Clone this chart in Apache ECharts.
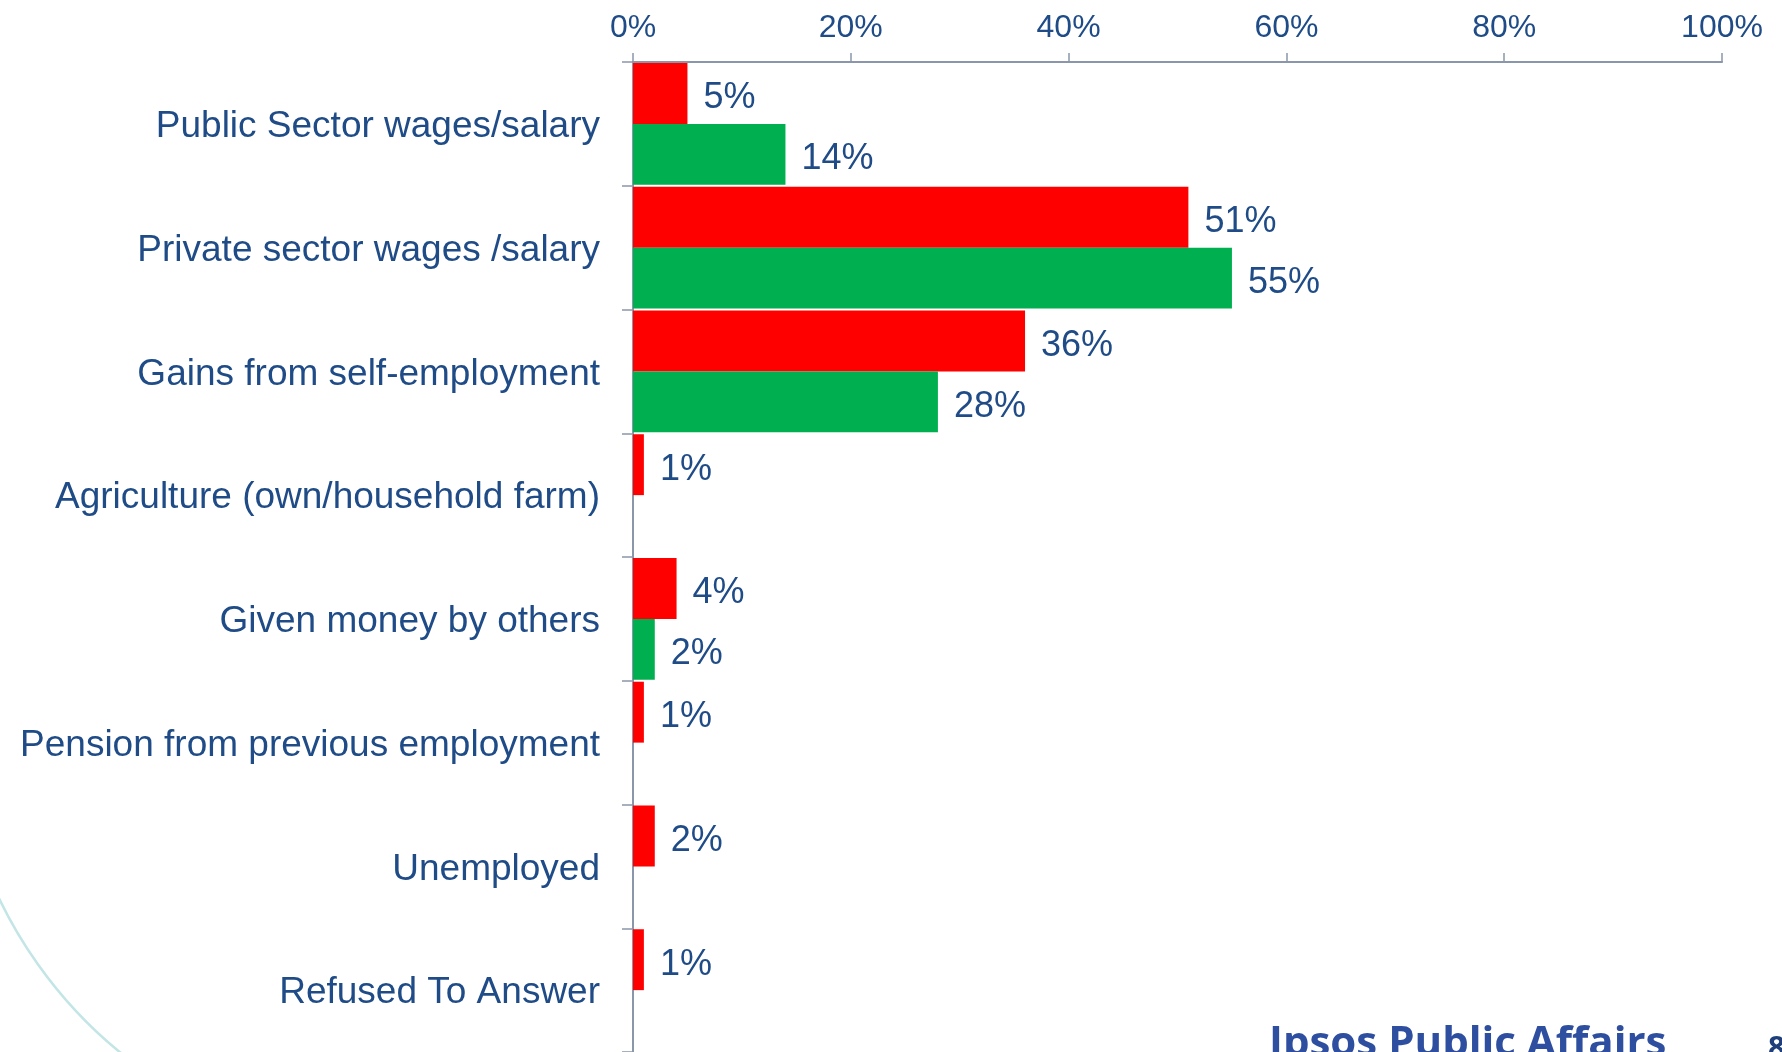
<!DOCTYPE html>
<html>
<head>
<meta charset="utf-8">
<script src="https://cdn.jsdelivr.net/npm/echarts@6/dist/echarts.min.js"></script>
<style>
  html, body { margin: 0; padding: 0; background: #ffffff; }
  #chart { width: 1782px; height: 1052px; }
</style>
</head>
<body>
<div id="chart"></div>
<script>
// ---- data ----
var categories = [
  'Public Sector wages/salary',
  'Private sector wages /salary',
  'Gains from self-employment',
  'Agriculture (own/household farm)',
  'Given money by others',
  'Pension from previous employment',
  'Unemployed',
  'Refused To Answer'
];
var redValues   = [5, 51, 36, 1, 4, 1, 2, 1];
var greenValues = [14, 55, 28, null, 2, null, null, null];
var xTicks = [0, 20, 40, 60, 80, 100];

var textColor = '#1f4b87';
var axisColor = '#8a96aa';

var chart = echarts.init(document.getElementById('chart'), null, { renderer: 'canvas' });

function barLabel() {
  return {
    show: true,
    position: 'right',
    distance: 16,
    offset: [0, 5],
    formatter: function (p) { return p.value + '%'; },
    color: textColor,
    fontFamily: 'Liberation Sans, Arial, sans-serif',
    fontSize: 36
  };
}

var option = {
  backgroundColor: '#ffffff',
  animation: false,
  grid: { left: 633, top: 62, width: 1089, height: 993, containLabel: false },
  xAxis: {
    type: 'value',
    position: 'top',
    min: xTicks[0],
    max: xTicks[xTicks.length - 1],
    interval: xTicks[1] - xTicks[0],
    axisLine: { show: true, lineStyle: { color: axisColor, width: 2 } },
    axisTick: { show: true, length: 9, lineStyle: { color: axisColor, width: 1.5 } },
    splitLine: { show: false },
    axisLabel: {
      formatter: '{value}%',
      color: textColor,
      fontFamily: 'Liberation Sans, Arial, sans-serif',
      fontSize: 32,
      margin: 18
    }
  },
  yAxis: {
    type: 'category',
    inverse: true,
    data: categories,
    axisLine: { show: true, lineStyle: { color: axisColor, width: 2 } },
    axisTick: { show: true, length: 11, lineStyle: { color: axisColor, width: 1.5 } },
    axisLabel: {
      margin: 33,
      formatter: function (v) { return '{c|' + v + '}'; },
      rich: {
        c: {
          color: textColor,
          fontFamily: 'Liberation Sans, Arial, sans-serif',
          fontSize: 37,
          padding: [6, 0, 0, 0]
        }
      }
    }
  },
  series: [
    {
      name: 'Series A',
      type: 'bar',
      data: redValues,
      barGap: '0%',
      barCategoryGap: '1.6%',
      itemStyle: { color: '#ff0000' },
      label: barLabel()
    },
    {
      name: 'Series B',
      type: 'bar',
      data: greenValues,
      barGap: '0%',
      barCategoryGap: '1.6%',
      itemStyle: { color: '#00b050' },
      label: barLabel()
    }
  ],
  graphic: [
    {
      type: 'arc',
      silent: true,
      z: -10,
      shape: { cx: 405, cy: 704, r: 450, startAngle: 2.15, endAngle: 2.9, clockwise: true },
      style: { stroke: '#c3e5e6', lineWidth: 2.5, fill: null }
    },
    {
      type: 'text',
      left: 1269,
      top: 1023,
      silent: true,
      style: {
        text: 'Ipsos Public Affairs',
        fill: '#2e4ea0',
        font: 'bold 42px "Open Sans", "Noto Sans", sans-serif'
      }
    },
    {
      type: 'text',
      left: 1768,
      top: 1034,
      silent: true,
      style: {
        text: '8',
        fill: '#1f3f7a',
        font: 'bold 30px "Open Sans", "Noto Sans", sans-serif'
      }
    }
  ]
};

chart.setOption(option);
</script>
</body>
</html>
